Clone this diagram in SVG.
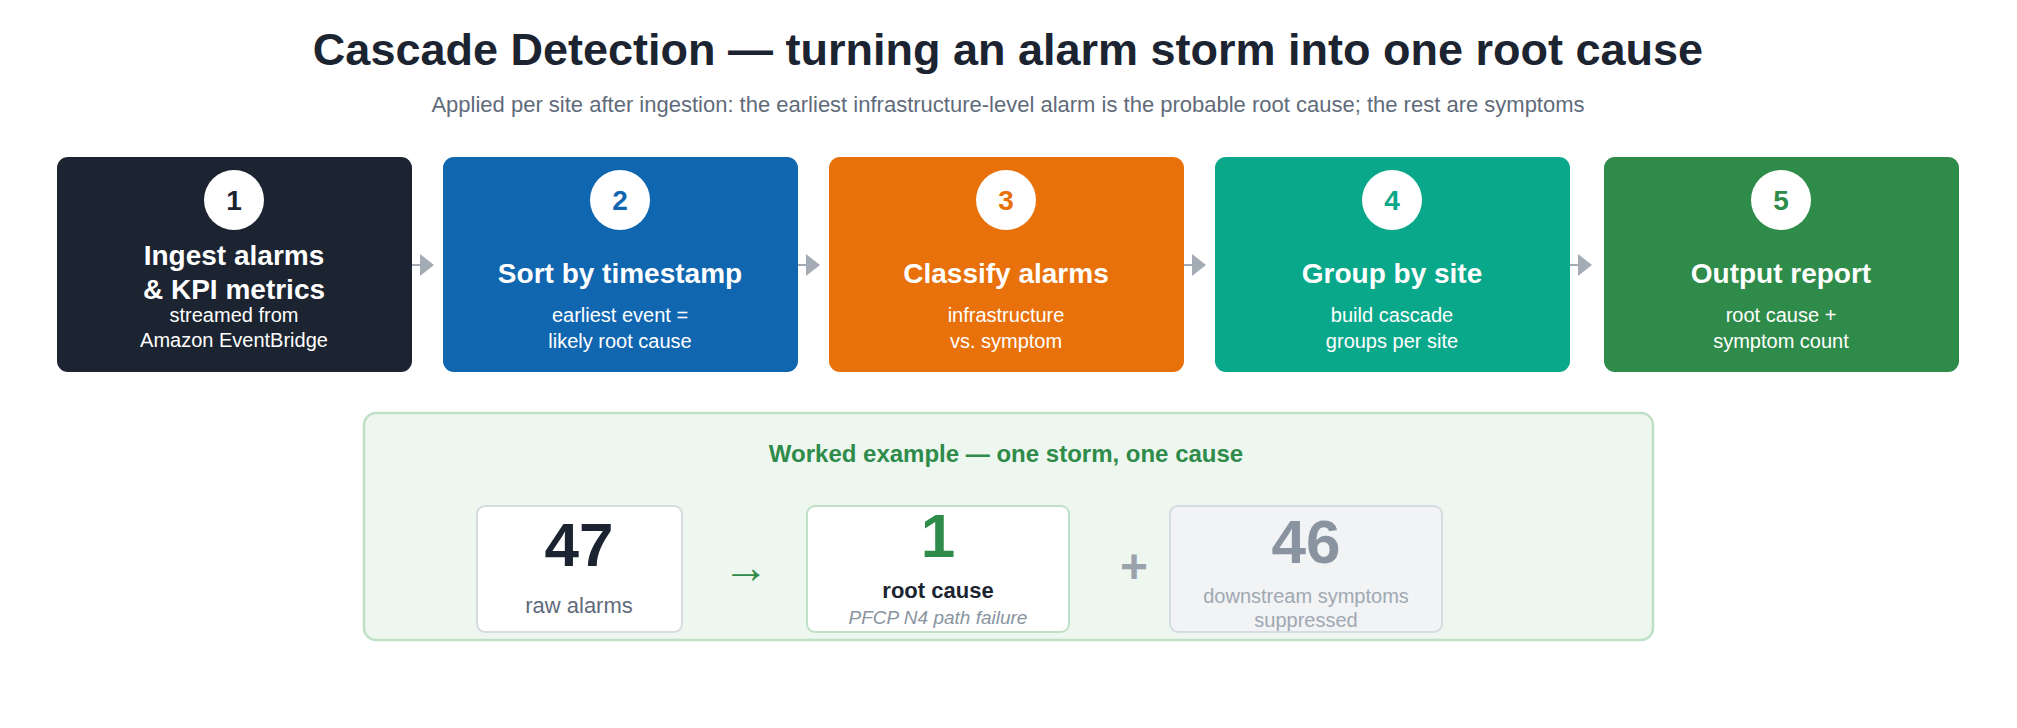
<svg xmlns="http://www.w3.org/2000/svg" width="2017" height="728" viewBox="0 0 2017 728">
<style>
text{font-family:"Liberation Sans",Arial,sans-serif;text-anchor:middle}
.ttl{font-size:28px;font-weight:bold;fill:#fff}
.sub{font-size:20px;fill:#fff}
.num{font-size:28px;font-weight:bold}
.box{stroke:none}
.conn{stroke:#a3abb5;stroke-width:2;fill:none}
</style>
<rect width="2017" height="728" fill="#fff"/>
<text x="1008" y="65" style="font-size:45px;font-weight:bold;fill:#1b2430">Cascade Detection — turning an alarm storm into one root cause</text>
<text x="1008" y="112" style="font-size:22px;fill:#5f6b7a">Applied per site after ingestion: the earliest infrastructure-level alarm is the probable root cause; the rest are symptoms</text>
<g id="connectors">
<g fill="#a3abb5">
<path class="conn" d="M412 265H420"/><polygon points="420,254 434,265 420,276"/>
<path class="conn" d="M798 265H806"/><polygon points="806,254 820,265 806,276"/>
<path class="conn" d="M1184 265H1192"/><polygon points="1192,254 1206,265 1192,276"/>
<path class="conn" d="M1570 265H1578"/><polygon points="1578,254 1592,265 1578,276"/>
</g>
</g>
<g id="step1"><rect x="57" y="157" width="355" height="215" rx="11" fill="#1b2430"/><circle cx="234" cy="200" r="30" fill="#fff"/><text class="num" x="234" y="210" fill="#1b2430">1</text>
<text class="ttl" x="234" y="265">Ingest alarms</text><text class="ttl" x="234" y="299">&amp; KPI metrics</text>
<text class="sub" x="234" y="322">streamed from</text><text class="sub" x="234" y="347">Amazon EventBridge</text></g>
<g id="step2"><rect x="443" y="157" width="355" height="215" rx="11" fill="#1166b0"/><circle cx="620" cy="200" r="30" fill="#fff"/><text class="num" x="620" y="210" fill="#1166b0">2</text>
<text class="ttl" x="620" y="283">Sort by timestamp</text>
<text class="sub" x="620" y="322">earliest event =</text><text class="sub" x="620" y="348">likely root cause</text></g>
<g id="step3"><rect x="829" y="157" width="355" height="215" rx="11" fill="#e8710c"/><circle cx="1006" cy="200" r="30" fill="#fff"/><text class="num" x="1006" y="210" fill="#e8710c">3</text>
<text class="ttl" x="1006" y="283">Classify alarms</text>
<text class="sub" x="1006" y="322">infrastructure</text><text class="sub" x="1006" y="348">vs. symptom</text></g>
<g id="step4"><rect x="1215" y="157" width="355" height="215" rx="11" fill="#0aa88a"/><circle cx="1392" cy="200" r="30" fill="#fff"/><text class="num" x="1392" y="210" fill="#0aa88a">4</text>
<text class="ttl" x="1392" y="283">Group by site</text>
<text class="sub" x="1392" y="322">build cascade</text><text class="sub" x="1392" y="348">groups per site</text></g>
<g id="step5"><rect x="1604" y="157" width="355" height="215" rx="11" fill="#2e8b4a"/><circle cx="1781" cy="200" r="30" fill="#fff"/><text class="num" x="1781" y="210" fill="#2e8b4a">5</text>
<text class="ttl" x="1781" y="283">Output report</text>
<text class="sub" x="1781" y="322">root cause +</text><text class="sub" x="1781" y="348">symptom count</text></g>
<g id="example">
<rect x="364" y="413" width="1289" height="227" rx="12" fill="#eef7ef" stroke="#bfe0c6" stroke-width="2.5"/>
<text x="1006" y="462" style="font-size:24px;font-weight:bold;fill:#2e8b4a">Worked example — one storm, one cause</text>
<g id="raw"><rect x="477" y="506" width="205" height="126" rx="8" fill="#fff" stroke="#d5dbe0" stroke-width="2"/>
<text x="579" y="566" style="font-size:62px;font-weight:bold;fill:#1b2430">47</text>
<text x="579" y="613" style="font-size:22px;fill:#5f6b7a">raw alarms</text></g>
<text x="746" y="583" style="font-size:46px;fill:#2e8b4a">→</text>
<g id="root"><rect x="807" y="506" width="262" height="126" rx="8" fill="#fff" stroke="#bfe0c6" stroke-width="2"/>
<text x="938" y="557" style="font-size:62px;font-weight:bold;fill:#2e8b4a">1</text>
<text x="938" y="598" style="font-size:22px;font-weight:bold;fill:#1b2430">root cause</text>
<text x="938" y="624" style="font-size:19px;font-style:italic;fill:#8a94a0">PFCP N4 path failure</text></g>
<text x="1134" y="583" style="font-size:48px;font-weight:bold;fill:#9aa3ad">+</text>
<g id="symptoms"><rect x="1170" y="506" width="272" height="126" rx="8" fill="#f1f3f5" stroke="#d5dbe0" stroke-width="2"/>
<text x="1306" y="563" style="font-size:62px;font-weight:bold;fill:#8a94a0">46</text>
<text x="1306" y="603" style="font-size:20px;fill:#a0a8b2">downstream symptoms</text>
<text x="1306" y="627" style="font-size:20px;fill:#a0a8b2">suppressed</text></g>
</g>
</svg>
